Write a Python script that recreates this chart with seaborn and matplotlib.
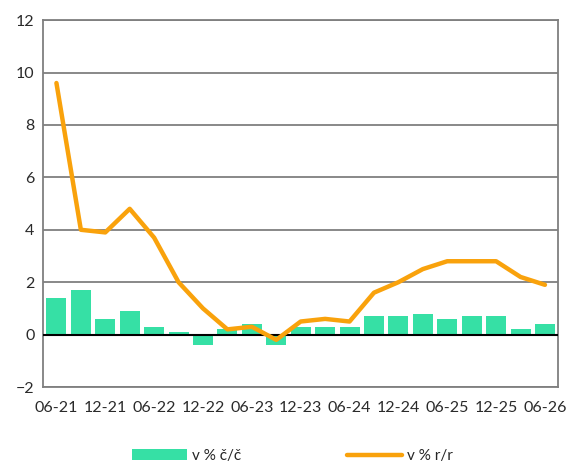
import numpy as np
import pandas as pd
import matplotlib
matplotlib.use("Agg")
import matplotlib.pyplot as plt
from matplotlib.patches import Patch
from matplotlib.lines import Line2D
import seaborn as sns

periods = ["06-21", "09-21", "12-21", "03-22", "06-22", "09-22", "12-22", "03-23",
           "06-23", "09-23", "12-23", "03-24", "06-24", "09-24", "12-24", "03-25",
           "06-25", "09-25", "12-25", "03-26", "06-26"]
qoq = [1.4, 1.7, 0.6, 0.9, 0.3, 0.1, -0.4, 0.2, 0.4, -0.4, 0.3, 0.3, 0.3,
       0.7, 0.7, 0.8, 0.6, 0.7, 0.7, 0.2, 0.4]
yoy = [9.6, 4.0, 3.9, 4.8, 3.7, 2.0, 1.0, 0.2, 0.3, -0.2, 0.5, 0.6, 0.5,
       1.6, 2.0, 2.5, 2.8, 2.8, 2.8, 2.2, 1.9]
label_qoq = "v % č/č"
label_yoy = "v % r/r"

bar_color = "#36E0A5"
line_color = "#F9A20C"
grid_color = "#7F7F7F"

sns.set_theme(style="white")
plt.rcParams["font.family"] = ["Lato", "DejaVu Sans"]

df = pd.DataFrame({"idx": np.arange(len(periods)), "period": periods, "qoq": qoq, "yoy": yoy})

fig = plt.figure(figsize=(5.85, 4.68), dpi=100)
ax = fig.add_axes([0.0735, 0.173, 0.881, 0.784])

sns.barplot(data=df, x="idx", y="qoq", color=bar_color, saturation=1, width=0.82,
            ax=ax, native_scale=True, zorder=2, linewidth=0)
sns.lineplot(data=df, x="idx", y="yoy", color=line_color, linewidth=3.2, ax=ax, zorder=4,
             solid_capstyle="round", solid_joinstyle="round")

ax.set_xlim(-0.55, len(periods) - 0.45)
ax.set_ylim(-2, 12)
ax.set_yticks(np.arange(-2, 13, 2))
ax.set_xticks(np.arange(0, len(periods), 2))
ax.set_xticklabels(periods[::2])
ax.set_xlabel("")
ax.set_ylabel("")
ax.yaxis.grid(True, color=grid_color, linewidth=1.3, zorder=0)
ax.set_axisbelow(True)
ax.axhline(0, color="black", linewidth=1.5, zorder=3)
for s in ax.spines.values():
    s.set_visible(True)
    s.set_color(grid_color)
    s.set_linewidth(1.3)
ax.tick_params(axis="both", length=0, labelsize=11.5, colors="#2a2a2a", pad=6)
ax.tick_params(axis="x", pad=10)

handles = [Patch(facecolor=bar_color, edgecolor="none", label=label_qoq),
           Line2D([0], [0], color=line_color, linewidth=3.2, solid_capstyle="round", label=label_yoy)]
fig.legend(handles=handles, loc="center", bbox_to_anchor=(0.5, 0.026), ncol=2, frameon=False,
           fontsize=11, handlelength=3.6, handleheight=0.65, columnspacing=6.9, handletextpad=0.35)

fig.savefig("out.png", dpi=100)
